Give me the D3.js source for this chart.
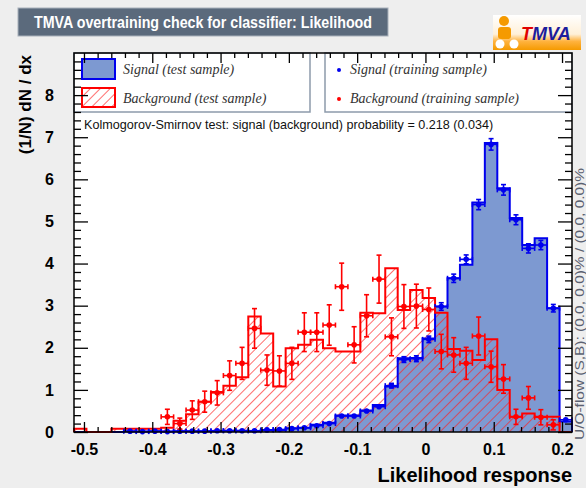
<!DOCTYPE html>
<html>
<head>
<meta charset="utf-8">
<script src="https://cdn.jsdelivr.net/npm/d3@7"></script>
<style>
  html, body { margin: 0; padding: 0; background: #eeeeee; }
  svg { display: block; }
</style>
</head>
<body>
<svg id="chart" width="586" height="488"></svg>
<script>
// Histogram binning of the classifier output
const binLow = -0.5146;
const binHigh = 0.2146;
const nBins = 40;

// Normalised test-sample histograms, (1/N) dN/dx per bin
const sigTest = [0, 0, 0, 0, 0.01, 0.01, 0.02, 0.01, 0.02, 0.02,
                 0.02, 0.02, 0.03, 0.03, 0.02, 0.05, 0.05, 0.09, 0.10, 0.17,
                 0.22, 0.39, 0.39, 0.51, 0.64, 1.08, 1.75, 1.76, 2.22, 2.98,
                 3.65, 3.97, 5.45, 6.86, 5.79, 5.08, 4.44, 4.60, 2.94, 0.25];
const bgTest  = [0.08, 0, 0, 0.08, 0.08, 0.08, 0.08, 0.10, 0.27, 0.42,
                 0.72, 0.95, 1.10, 1.30, 2.74, 2.34, 1.08, 1.99, 2.07, 2.19,
                 1.99, 1.91, 1.91, 2.83, 2.82, 3.89, 2.90, 3.37, 3.18, 2.83,
                 1.97, 1.93, 1.71, 2.20, 1.00, 0.36, 0.44, 0.36, 0.36, 0];

// Training-sample histograms with their statistical errors
const sigTrain    = [0, 0, 0, 0, 0.02, 0.01, 0.02, 0.01, 0.02, 0.02,
                     0.02, 0.03, 0.03, 0.03, 0.03, 0.05, 0.06, 0.08, 0.10, 0.15,
                     0.20, 0.38, 0.38, 0.50, 0.60, 1.10, 1.72, 1.74, 2.20, 2.98,
                     3.65, 4.10, 5.40, 6.83, 5.75, 5.04, 4.36, 4.44, 2.94, 0.29];
const sigTrainErr = [0, 0, 0, 0, 0.007, 0.005, 0.007, 0.005, 0.007, 0.007,
                     0.007, 0.009, 0.009, 0.009, 0.009, 0.012, 0.013, 0.015, 0.016, 0.020,
                     0.023, 0.032, 0.032, 0.037, 0.040, 0.055, 0.068, 0.069, 0.077, 0.090,
                     0.099, 0.105, 0.121, 0.136, 0.125, 0.117, 0.109, 0.110, 0.089, 0.028];
const bgTrain     = [0, 0, 0, 0, 0, 0, 0, 0.36, 0.20, 0.52,
                     0.72, 0.93, 1.34, 1.63, 2.46, 1.47, 1.45, 1.63, 2.37, 2.37,
                     2.54, 3.45, 2.07, 2.76, 3.63, 2.26, 2.98, 2.99, 2.91, 1.91,
                     1.83, 1.63, 2.28, 1.55, 1.26, 0.36, 0.81, 0.35, 0.17, 0];
const bgTrainErr  = [0, 0, 0, 0, 0, 0, 0, 0.18, 0.13, 0.22,
                     0.25, 0.29, 0.35, 0.38, 0.47, 0.36, 0.36, 0.38, 0.46, 0.46,
                     0.48, 0.56, 0.43, 0.50, 0.57, 0.45, 0.52, 0.52, 0.51, 0.41,
                     0.41, 0.38, 0.45, 0.37, 0.34, 0.18, 0.27, 0.18, 0.12, 0];

// Axis ticks and labels
const xTicks = [-0.5, -0.4, -0.3, -0.2, -0.1, 0, 0.1, 0.2];
const xTickLabels = ["-0.5", "-0.4", "-0.3", "-0.2", "-0.1", "0", "0.1", "0.2"];
const yTicks = [0, 1, 2, 3, 4, 5, 6, 7, 8];
const yTickLabels = ["0", "1", "2", "3", "4", "5", "6", "7", "8"];
const yMax = 9;

const titleText = "TMVA overtraining check for classifier: Likelihood";
const xTitle = "Likelihood response";
const yTitle = "(1/N) dN / dx";
const ksText = "Kolmogorov-Smirnov test: signal (background) probability = 0.218 (0.034)";
const flowText = "U/O-flow (S,B): (0.0, 0.0)% / (0.0, 0.0)%";
const legendLeft = ["Signal (test sample)", "Background (test sample)"];
const legendRight = ["Signal (training sample)", "Background (training sample)"];

// Colours
const sigFill = "#7d99d1", sigLine = "#0000ee", bgLine = "#ff0000";

const svg = d3.select("#chart");
const frame = { left: 74, right: 572, top: 53, bottom: 432 };

const x = d3.scaleLinear().domain([binLow, binHigh]).range([frame.left, frame.right]);
const y = d3.scaleLinear().domain([0, yMax]).range([frame.bottom, frame.top]);
const binW = (binHigh - binLow) / nBins;
const edges = d3.range(nBins + 1).map(i => binLow + i * binW);

// Hatch pattern for the background histogram
const defs = svg.append("defs");
const hatch = defs.append("pattern")
  .attr("id", "hatch").attr("patternUnits", "userSpaceOnUse")
  .attr("width", 7).attr("height", 7)
  .attr("patternTransform", "rotate(45)");
hatch.append("line").attr("x1", 0).attr("y1", 0).attr("x2", 0).attr("y2", 7)
  .attr("stroke", "#ff2020").attr("stroke-width", 1.3);

const logoGrad = defs.append("linearGradient").attr("id", "logoGrad")
  .attr("x1", 0).attr("y1", 0).attr("x2", 0).attr("y2", 1);
logoGrad.append("stop").attr("offset", "0%").attr("stop-color", "#ffffff");
logoGrad.append("stop").attr("offset", "55%").attr("stop-color", "#fff0d8");
logoGrad.append("stop").attr("offset", "75%").attr("stop-color", "#ffb340");
logoGrad.append("stop").attr("offset", "100%").attr("stop-color", "#f59a00");

// Title box
svg.append("rect").attr("x", 18).attr("y", 8).attr("width", 370).attr("height", 28)
  .attr("fill", "#5b6a7c").attr("stroke", "#a8b0ba").attr("stroke-width", 1);
svg.append("text").attr("x", 203).attr("y", 27.5).attr("text-anchor", "middle")
  .attr("font-family", "Liberation Sans, Arial, sans-serif").attr("font-weight", "bold")
  .attr("font-size", 16).attr("fill", "#ffffff")
  .attr("textLength", 338).attr("lengthAdjust", "spacingAndGlyphs")
  .text(titleText);

// TMVA logo
const logo = svg.append("g");
logo.append("rect").attr("x", 493).attr("y", 15).attr("width", 88).attr("height", 35)
  .attr("fill", "url(#logoGrad)");
logo.append("circle").attr("cx", 504).attr("cy", 21).attr("r", 5).attr("fill", "#f59a00");
logo.append("rect").attr("x", 498).attr("y", 27).attr("width", 13).attr("height", 12)
  .attr("rx", 3).attr("fill", "#f59a00");
logo.append("circle").attr("cx", 500).attr("cy", 44).attr("r", 4.5).attr("fill", "#ffffff");
logo.append("circle").attr("cx", 514).attr("cy", 44).attr("r", 4.5).attr("fill", "#ffffff");
const logoText = logo.append("text").attr("x", 521).attr("y", 40)
  .attr("font-family", "Liberation Sans, Arial, sans-serif").attr("font-weight", "bold")
  .attr("font-style", "italic").attr("font-size", 18);
logoText.append("tspan").attr("fill", "#e00000").text("T");
logoText.append("tspan").attr("fill", "#1c1c9c").text("MVA");

// Plot area
svg.append("rect").attr("x", frame.left).attr("y", frame.top)
  .attr("width", frame.right - frame.left).attr("height", frame.bottom - frame.top)
  .attr("fill", "#ffffff");

// Step outline of a histogram as a list of points
function stepPoints(vals) {
  const pts = [[edges[0], 0]];
  vals.forEach((v, i) => { pts.push([edges[i], v]); pts.push([edges[i + 1], v]); });
  pts.push([edges[nBins], 0]);
  return pts;
}
const line = d3.line().x(d => x(d[0])).y(d => y(d[1]));

const plot = svg.append("g");
// Signal test histogram (filled)
plot.append("path").attr("d", line(stepPoints(sigTest)) + "Z")
  .attr("fill", sigFill).attr("stroke", "none");
// Background test histogram (hatched)
plot.append("path").attr("d", line(stepPoints(bgTest)) + "Z")
  .attr("fill", "url(#hatch)").attr("stroke", "none");
plot.append("path").attr("d", line(stepPoints(sigTest)))
  .attr("fill", "none").attr("stroke", sigLine).attr("stroke-width", 2);
plot.append("path").attr("d", line(stepPoints(bgTest)))
  .attr("fill", "none").attr("stroke", bgLine).attr("stroke-width", 2);

// Training samples: markers with error bars
function drawPoints(vals, errs, color) {
  const g = plot.append("g").attr("stroke", color).attr("fill", color).attr("stroke-width", 1.6);
  vals.forEach((v, i) => {
    if (v <= 0) return;
    const cx = x((edges[i] + edges[i + 1]) / 2);
    const x0 = x(edges[i]), x1 = x(edges[i + 1]);
    const yTop = y(v + errs[i]), yBot = y(Math.max(0, v - errs[i])), yc = y(v);
    const cap = 2.5;
    g.append("line").attr("x1", x0).attr("x2", x1).attr("y1", yc).attr("y2", yc);
    g.append("line").attr("x1", cx).attr("x2", cx).attr("y1", yTop).attr("y2", yBot);
    if (yBot - yTop > 4) {
      g.append("line").attr("x1", cx - cap).attr("x2", cx + cap).attr("y1", yTop).attr("y2", yTop);
      g.append("line").attr("x1", cx - cap).attr("x2", cx + cap).attr("y1", yBot).attr("y2", yBot);
    }
    g.append("line").attr("x1", x0).attr("x2", x0).attr("y1", yc - cap).attr("y2", yc + cap);
    g.append("line").attr("x1", x1).attr("x2", x1).attr("y1", yc - cap).attr("y2", yc + cap);
    g.append("circle").attr("cx", cx).attr("cy", yc).attr("r", 2.8).attr("stroke", "none");
  });
}
drawPoints(sigTrain, sigTrainErr, sigLine);
drawPoints(bgTrain, bgTrainErr, bgLine);

// Legend boxes
const legendBottom = 112;
svg.append("rect").attr("x", frame.left).attr("y", frame.top)
  .attr("width", 236).attr("height", legendBottom - frame.top)
  .attr("fill", "#ffffff").attr("stroke", "#8d9aab").attr("stroke-width", 1.5);
svg.append("rect").attr("x", 325).attr("y", frame.top)
  .attr("width", frame.right - 325).attr("height", legendBottom - frame.top)
  .attr("fill", "#ffffff").attr("stroke", "#8d9aab").attr("stroke-width", 1.5);

svg.append("rect").attr("x", 82).attr("y", 59).attr("width", 33).attr("height", 20)
  .attr("fill", sigFill).attr("stroke", sigLine).attr("stroke-width", 2);
svg.append("rect").attr("x", 82).attr("y", 88).attr("width", 33).attr("height", 19)
  .attr("fill", "url(#hatch)").attr("stroke", bgLine).attr("stroke-width", 2);
svg.append("circle").attr("cx", 339).attr("cy", 70).attr("r", 2).attr("fill", sigLine);
svg.append("circle").attr("cx", 339).attr("cy", 99).attr("r", 2).attr("fill", bgLine);

const legFont = "Liberation Serif, Times New Roman, serif";
[[123, 74, legendLeft[0]], [123, 103, legendLeft[1]],
 [350, 74, legendRight[0]], [350, 103, legendRight[1]]].forEach(d => {
  svg.append("text").attr("x", d[0]).attr("y", d[1])
    .attr("font-family", legFont).attr("font-style", "italic").attr("font-size", 14)
    .attr("fill", "#333333").text(d[2]);
});

// Kolmogorov-Smirnov result
svg.append("text").attr("x", 84).attr("y", 129)
  .attr("font-family", "Liberation Sans, Arial, sans-serif").attr("font-size", 12.6)
  .attr("fill", "#111111").text(ksText);

// Axes with inward major and minor ticks on all four sides
const fontAxis = "Liberation Sans, Arial, sans-serif";
const xMinor = d3.range(-0.5, 0.2001, 0.02).filter(v => !xTicks.some(t => Math.abs(t - v) < 1e-6));
const yMinor = d3.range(0, yMax + 0.001, 0.2).filter(v => Math.abs(v - Math.round(v)) > 1e-6);

function styleAxis(g) {
  g.select(".domain").remove();
  g.selectAll(".tick line").attr("stroke", "#000").attr("stroke-width", 1.3);
}
const xAxisB = svg.append("g").attr("transform", `translate(0,${frame.bottom})`)
  .call(d3.axisBottom(x).tickValues(xTicks).tickSize(-10).tickPadding(16)
    .tickFormat((d, i) => xTickLabels[i]));
styleAxis(xAxisB);
xAxisB.selectAll("text").attr("font-family", fontAxis).attr("font-weight", "bold")
  .attr("font-size", 16).attr("fill", "#000").attr("dy", "0.45em");
styleAxis(svg.append("g").attr("transform", `translate(0,${frame.bottom})`)
  .call(d3.axisBottom(x).tickValues(xMinor).tickSize(-5).tickFormat("")));
styleAxis(svg.append("g").attr("transform", `translate(0,${frame.top})`)
  .call(d3.axisTop(x).tickValues(xTicks).tickSize(-10).tickFormat("")));
styleAxis(svg.append("g").attr("transform", `translate(0,${frame.top})`)
  .call(d3.axisTop(x).tickValues(xMinor).tickSize(-5).tickFormat("")));

const yAxisL = svg.append("g").attr("transform", `translate(${frame.left},0)`)
  .call(d3.axisLeft(y).tickValues(yTicks).tickSize(-14).tickPadding(20)
    .tickFormat((d, i) => yTickLabels[i]));
styleAxis(yAxisL);
yAxisL.selectAll("text").attr("font-family", fontAxis).attr("font-weight", "bold")
  .attr("font-size", 16).attr("fill", "#000");
styleAxis(svg.append("g").attr("transform", `translate(${frame.left},0)`)
  .call(d3.axisLeft(y).tickValues(yMinor).tickSize(-7).tickFormat("")));
styleAxis(svg.append("g").attr("transform", `translate(${frame.right},0)`)
  .call(d3.axisRight(y).tickValues(yTicks).tickSize(-14).tickFormat("")));
styleAxis(svg.append("g").attr("transform", `translate(${frame.right},0)`)
  .call(d3.axisRight(y).tickValues(yMinor).tickSize(-7).tickFormat("")));

// Frame
svg.append("rect").attr("x", frame.left).attr("y", frame.top)
  .attr("width", frame.right - frame.left).attr("height", frame.bottom - frame.top)
  .attr("fill", "none").attr("stroke", "#000").attr("stroke-width", 1.5);

// Axis titles
svg.append("text").attr("x", frame.right).attr("y", 482).attr("text-anchor", "end")
  .attr("font-family", fontAxis).attr("font-weight", "bold").attr("font-size", 20)
  .attr("fill", "#000").text(xTitle);
svg.append("text").attr("transform", `translate(31,${frame.top + 2}) rotate(-90)`)
  .attr("text-anchor", "end").attr("font-family", fontAxis).attr("font-weight", "bold")
  .attr("font-size", 17).attr("fill", "#000").text(yTitle);

// Under/overflow note
svg.append("text").attr("transform", "translate(584,440) rotate(-90)")
  .attr("font-family", fontAxis).attr("font-size", 12).attr("fill", "#5a6070")
  .attr("textLength", 272).attr("lengthAdjust", "spacingAndGlyphs")
  .text(flowText);
</script>
</body>
</html>
